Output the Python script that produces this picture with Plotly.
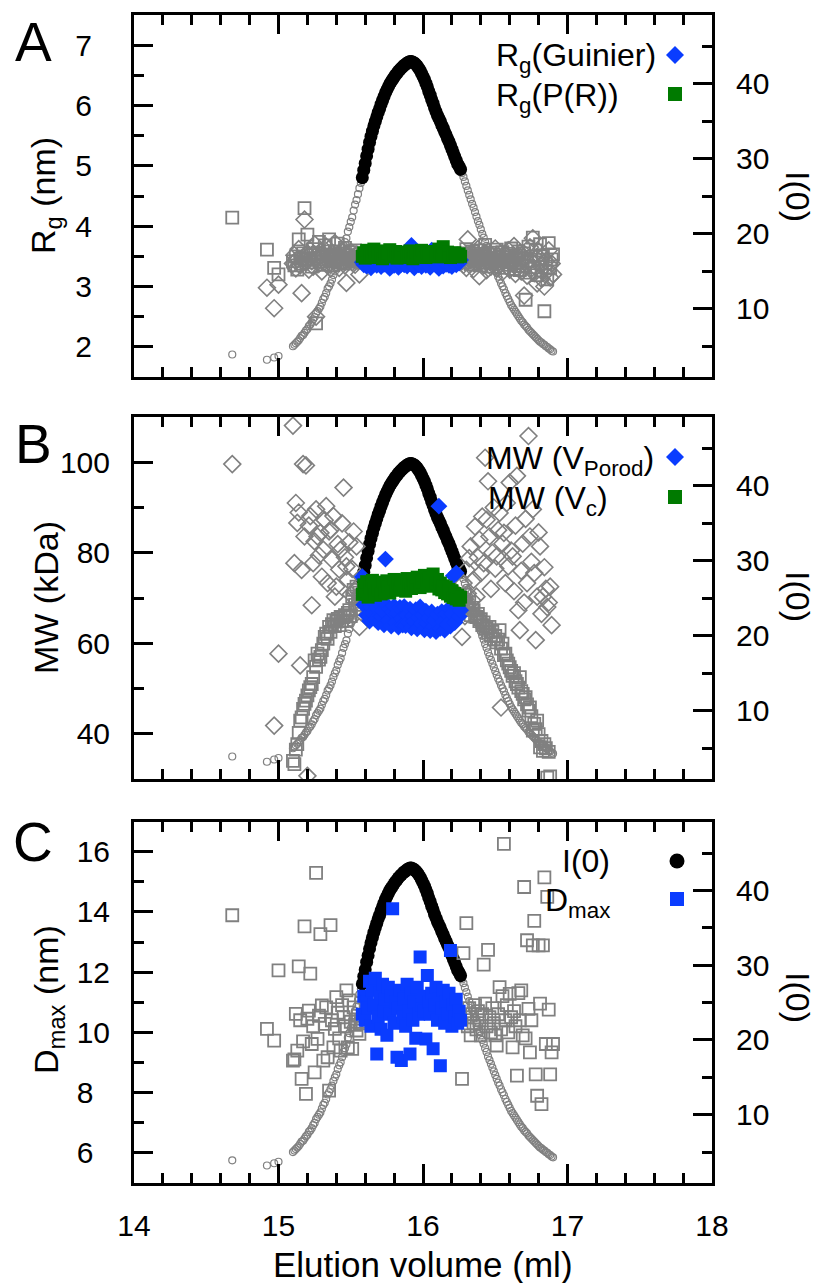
import numpy as np
import plotly.graph_objects as go

# Elution volume of each frame (ml)
volume_ml = [
    14.68, 14.92, 14.97, 15.00,
    15.10, 15.11, 15.12, 15.13, 15.14, 15.15, 15.16, 15.17, 15.18, 15.19,
    15.20, 15.21, 15.22, 15.23, 15.24, 15.25, 15.26, 15.27, 15.28, 15.29,
    15.30, 15.31, 15.32, 15.33, 15.34, 15.35, 15.36, 15.37, 15.38, 15.39,
    15.40, 15.41, 15.42, 15.43, 15.44, 15.45, 15.46, 15.47, 15.48, 15.49,
    15.50, 15.51, 15.52, 15.53, 15.54, 15.55, 15.56, 15.57, 15.58, 15.59,
    15.60, 15.61, 15.62, 15.63, 15.64, 15.65, 15.66, 15.67, 15.68, 15.69,
    15.70, 15.71, 15.72, 15.73, 15.74, 15.75, 15.76, 15.77, 15.78, 15.79,
    15.80, 15.81, 15.82, 15.83, 15.84, 15.85, 15.86, 15.87, 15.88, 15.89,
    15.90, 15.91, 15.92, 15.93, 15.94, 15.95, 15.96, 15.97, 15.98, 15.99,
    16.00, 16.01, 16.02, 16.03, 16.04, 16.05, 16.06, 16.07, 16.08, 16.09,
    16.10, 16.11, 16.12, 16.13, 16.14, 16.15, 16.16, 16.17, 16.18, 16.19,
    16.20, 16.21, 16.22, 16.23, 16.24, 16.25, 16.26, 16.27, 16.28, 16.29,
    16.30, 16.31, 16.32, 16.33, 16.34, 16.35, 16.36, 16.37, 16.38, 16.39,
    16.40, 16.41, 16.42, 16.43, 16.44, 16.45, 16.46, 16.47, 16.48, 16.49,
    16.50, 16.51, 16.52, 16.53, 16.54, 16.55, 16.56, 16.57, 16.58, 16.59,
    16.60, 16.61, 16.62, 16.63, 16.64, 16.65, 16.66, 16.67, 16.68, 16.69,
    16.70, 16.71, 16.72, 16.73, 16.74, 16.75, 16.76, 16.77, 16.78, 16.79,
    16.80, 16.81, 16.82, 16.83, 16.84, 16.85, 16.86, 16.87, 16.88, 16.89,
    16.90,
]

# Forward scattering I(0)
i0 = [
    3.9, 3.2, 3.5, 3.7,
    5.0, 5.2, 5.4, 5.6, 5.8, 6.1, 6.4, 6.5, 6.8, 7.1,
    7.3, 7.7, 7.9, 8.2, 8.6, 8.9, 9.4, 9.7, 10.0, 10.3,
    10.8, 11.3, 11.6, 12.1, 12.7, 13.0, 13.4, 13.9, 14.5, 15.0,
    15.4, 16.1, 16.6, 17.0, 17.7, 18.4, 18.9, 19.4, 20.3, 20.9,
    21.6, 22.2, 23.1, 23.9, 24.5, 25.3, 26.1, 26.8, 27.5, 28.5,
    29.4, 30.4, 31.3, 32.2, 33.0, 33.7, 34.4, 35.0, 35.6, 36.2,
    36.7, 37.3, 37.8, 38.3, 38.8, 39.2, 39.6, 40.0, 40.3, 40.6,
    40.9, 41.2, 41.4, 41.7, 41.9, 42.1, 42.3, 42.5, 42.6, 42.8,
    42.9, 43.0, 43.0, 42.9, 42.8, 42.6, 42.4, 42.1, 41.8, 41.4,
    41.0, 40.6, 40.1, 39.6, 39.0, 38.5, 37.9, 37.4, 36.8, 36.3,
    35.8, 35.4, 35.0, 34.5, 34.1, 33.6, 33.2, 32.7, 32.3, 31.8,
    31.3, 30.8, 30.3, 29.8, 29.3, 29.0, 28.6, 28.1, 27.6, 27.0,
    26.4, 25.8, 25.2, 24.6, 24.0, 23.5, 22.9, 22.3, 21.7, 21.2,
    20.6, 20.0, 19.5, 18.9, 18.4, 17.8, 17.3, 16.8, 16.3, 15.8,
    15.3, 14.8, 14.3, 13.9, 13.4, 13.0, 12.6, 12.1, 11.7, 11.3,
    10.9, 10.5, 10.2, 9.9, 9.6, 9.3, 9.0, 8.7, 8.4, 8.2,
    7.9, 7.7, 7.5, 7.2, 7.0, 6.8, 6.6, 6.4, 6.2, 6.0,
    5.8, 5.6, 5.5, 5.3, 5.2, 5.0, 4.9, 4.7, 4.6, 4.4,
    4.3,
]

# Radius of gyration from the Guinier fit (nm)
rg_guinier = [
    None, 2.98, 2.64, 3.03,
    3.38, 3.52, 3.30, 3.45, 3.62, 3.35, 2.89, 3.48, 4.11, 3.40,
    3.55, 3.28, 3.60, 3.42, 3.33, 3.70, 2.50, 3.46, 3.38, 3.58,
    3.25, 3.50, 3.41, 3.66, 3.36, 3.47, 3.30, 3.55, 3.44, 3.72,
    3.39, 3.52, 3.31, 3.48, 3.60, 3.42, 3.35, 3.06, 3.50, 3.44,
    3.58, 3.40, 3.47, 3.36, 3.52, 3.43, 3.20, 3.46, 3.40, 3.36,
    3.42, 3.34, 3.45, 3.38, 3.31, 3.44, 3.37, 3.40, 3.35, 3.47,
    3.39, 3.33, 3.42, 3.37, 3.45, 3.36, 3.41, 3.30, 3.43, 3.38,
    3.35, 3.46, 3.39, 3.32, 3.41, 3.37, 3.44, 3.36, 3.40, 3.34,
    3.44, 3.38, 3.68, 3.43, 3.31, 3.45, 3.39, 3.36, 3.42, 3.33,
    3.47, 3.38, 3.35, 3.41, 3.37, 3.32, 3.60, 3.44, 3.39, 3.36,
    3.42, 3.30, 3.46, 3.38, 3.34, 3.41, 3.37, 3.43, 3.35, 3.40,
    3.33, 3.45, 3.38, 3.36, 3.42, 3.39, 3.44, 3.42, 3.36, 3.50,
    3.31, 3.78, 3.45, 3.38, 3.55, 3.29, 3.47, 3.40, 3.62, 3.17,
    3.44, 3.52, 3.35, 3.48, 3.27, 3.58, 3.41, 3.33, 3.50, 3.39,
    3.63, 3.30, 3.46, 3.37, 3.55, 3.24, 3.43, 3.51, 3.34, 3.60,
    3.28, 3.45, 3.38, 3.67, 3.21, 3.49, 3.36, 3.56, 3.25, 3.44,
    2.85, 3.52, 3.18, 3.40, 3.65, 3.30, 3.80, 3.22, 3.47, 3.05,
    3.58, 3.35, 3.13, 3.50, 3.00, 3.42, 3.26, 3.60, 3.15, 3.38,
    3.20,
]

# Radius of gyration from the pair distance distribution P(R) (nm)
rg_pr = [
    4.14, 3.61, 3.31, 3.20,
    3.42, 3.35, 3.50, 3.28, 3.78, 3.46, 3.38, 3.55, 4.30, 3.44,
    3.86, 3.40, 3.52, 3.33, 3.62, 3.47, 2.39, 3.56, 3.74, 3.41,
    3.50, 3.36, 3.68, 3.45, 3.53, 3.78, 3.42, 3.49, 3.35, 3.58,
    3.46, 3.71, 3.40, 3.55, 3.48, 3.38, 3.64, 3.44, 3.52, 3.41,
    3.57, 3.47, 3.43, 3.60, 3.49, 3.45, 3.53, 3.48, 3.50, 3.56,
    3.47, 3.60, 3.53, 3.49, 3.58, 3.52, 3.62, 3.55, 3.48, 3.57,
    3.51, 3.54, 3.46, 3.59, 3.53, 3.50, 3.56, 3.61, 3.49, 3.54,
    3.52, 3.58, 3.47, 3.55, 3.51, 3.57, 3.53, 3.48, 3.56, 3.50,
    3.54, 3.59, 3.52, 3.46, 3.55, 3.51, 3.57, 3.49, 3.53, 3.60,
    3.50, 3.55, 3.48, 3.56, 3.52, 3.58, 3.54, 3.50, 3.57, 3.53,
    3.49, 3.62, 3.55, 3.51, 3.66, 3.54, 3.50, 3.57, 3.53, 3.48,
    3.55, 3.51, 3.56, 3.52, 3.49, 3.54, 3.50, 3.48, 3.55, 3.40,
    3.62, 3.45, 3.52, 3.37, 3.58, 3.46, 3.41, 3.54, 3.49, 3.35,
    3.60, 3.44, 3.51, 3.69, 3.39, 3.47, 3.56, 3.42, 3.33, 3.53,
    3.45, 3.61, 3.38, 3.50, 3.43, 3.57, 3.31, 3.48, 3.40, 3.54,
    3.36, 3.63, 3.44, 3.29, 3.51, 3.39, 3.58, 3.27, 3.46, 3.34,
    3.55, 2.78, 3.42, 3.66, 3.23, 3.49, 3.81, 3.32, 3.60, 3.19,
    3.44, 3.70, 3.26, 3.52, 2.59, 3.38, 3.12, 3.72, 3.30, 3.45,
    3.53,
]

# Molecular weight from the Porod volume (kDa)
mw_porod = [
    99.6, None, 41.8, 57.7,
    108.1, 77.7, 91.0, 86.6, 88.9, 55.1, 76.2, 99.6, 83.6, 99.3,
    30.7, 86.0, 88.1, 68.4, 77.7, 82.5, 89.6, 83.6, 79.4, 84.4,
    74.7, 80.7, 87.2, 90.3, 73.3, 84.7, 85.1, 78.5, 88.1, 70.3,
    72.5, 81.9, 76.3, 80.7, 86.5, 94.4, 79.0, 77.0, 74.0, 82.3,
    70.8, 76.4, 84.7, 71.5, 81.4, 68.0, 63.6, 66.9, 74.7, 68.5,
    74.0, 66.2, 69.3, 64.9, 68.0, 66.7, 69.1, 65.3, 67.8, 64.6,
    68.6, 65.9, 67.2, 64.1, 78.6, 68.4, 65.0, 67.6, 63.8, 66.9,
    68.2, 64.5, 66.6, 63.6, 67.9, 65.4, 64.0, 68.1, 63.9, 66.3,
    64.7, 67.5, 63.4, 66.0, 64.9, 67.4, 63.2, 65.7, 68.0, 64.3,
    66.2, 63.0, 67.1, 64.4, 65.6, 62.8, 66.9, 63.7, 65.1, 62.6,
    66.4, 90.3, 63.3, 67.0, 64.8, 62.9, 66.6, 64.2, 67.7, 63.8,
    66.5, 74.9, 64.6, 75.5, 68.3, 65.9, 67.3, 61.4, 73.3, 66.0,
    76.2, 71.0, 78.8, 81.4, 69.5, 74.0, 85.8, 70.3, 79.0, 82.9,
    75.5, 88.0, 77.7, 101.0, 87.3, 95.8, 83.6, 72.0, 80.0, 90.0,
    76.5, 79.2, 85.0, 88.8, 45.8, 82.0, 84.4, 73.3, 91.0, 77.0,
    95.5, 80.5, 79.2, 71.5, 86.0, 97.0, 67.3, 62.9, 76.0, 82.0,
    69.0, 87.5, 73.3, 105.8, 83.6, 78.0, 89.6, 75.5, 60.7, 70.3,
    84.5, 81.4, 66.5, 70.3, 76.8, 72.0, 68.0, 69.0, 72.5, 64.0,
    None,
]

# Molecular weight from the volume of correlation Vc (kDa)
mw_vc = [
    None, None, None, None,
    34.0, 33.3, 36.5, 37.7, 40.2, 42.9, 43.6, 45.5, 46.6, 47.3,
    48.5, 49.6, 50.3, 51.0, 52.5, 56.2, 54.8, 57.7, 56.4, 57.0,
    58.5, 59.9, 61.4, 62.1, 61.0, 63.6, 62.5, 64.2, 65.1, 63.8,
    64.8, 65.4, 64.0, 65.8, 64.9, 65.8, 66.2, 65.0, 66.7, 67.3,
    66.0, 70.3, 71.8, 68.5, 72.5, 69.7, 71.2, 70.5, 70.8, 72.9,
    71.5, 73.6, 70.2, 72.4, 71.0, 73.9, 72.1, 70.6, 73.2, 71.8,
    72.7, 70.9, 73.5, 72.0, 71.3, 73.8, 72.5, 71.1, 73.0, 72.2,
    74.1, 71.7, 72.8, 73.4, 71.9, 74.0, 72.6, 73.1, 71.5, 74.3,
    72.9, 73.6, 72.1, 74.0, 73.2, 72.4, 74.6, 73.0, 72.3, 74.2,
    73.5, 75.0, 72.8, 73.9, 74.5, 72.6, 73.7, 75.3, 72.9, 73.4,
    74.1, 72.0, 73.3, 71.8, 72.7, 71.2, 72.4, 70.9, 71.9, 70.4,
    71.6, 70.1, 71.0, 69.8, 70.6, 69.5, 70.2, 70.0, 69.1, 70.8,
    68.8, 67.5, 69.0, 66.2, 67.8, 67.3, 65.9, 65.8, 66.5, 64.9,
    65.3, 64.0, 64.6, 63.2, 63.6, 62.4, 63.6, 61.8, 62.5, 60.9,
    61.6, 60.2, 60.8, 62.9, 58.8, 59.9, 57.4, 57.7, 56.2, 55.5,
    54.7, 53.9, 52.8, 53.4, 51.6, 51.0, 50.2, 52.5, 49.4, 48.8,
    47.6, 48.1, 46.5, 45.1, 45.8, 43.9, 40.7, 42.2, 41.0, 42.9,
    39.9, 37.0, 38.4, 36.2, 37.7, 36.8, 30.3, 36.0, 30.6, None,
    None,
]

# Maximum particle dimension (nm)
dmax = [
    13.89, 10.11, 9.72, 12.06,
    9.06, 9.10, 10.61, 9.39, 12.19, 10.40, 8.45, 9.70, 13.52, 7.95,
    10.45, 10.72, 11.95, 9.61, 10.20, 8.67, 15.30, 9.78, 10.55, 13.26,
    10.89, 9.06, 10.28, 10.83, 9.17, 8.06, 13.56, 10.40, 9.50, 10.11,
    11.17, 10.65, 9.80, 9.39, 10.90, 10.50, 10.20, 11.39, 9.50, 11.06,
    10.35, 9.45, 10.83, 10.25, 10.06, 10.55, 9.95, 10.30, 10.6, 11.2,
    10.4, 11.0, 10.8, 11.7, 10.2, 11.4, 10.9, 11.8, 9.28, 10.5,
    11.3, 10.1, 11.6, 10.7, 11.1, 9.9, 11.5, 10.6, 11.2, 14.11,
    10.3, 11.0, 9.17, 10.8, 11.4, 9.06, 10.5, 11.1, 10.2, 11.6,
    10.7, 9.28, 11.3, 10.4, 11.0, 9.8, 11.5, 10.6, 12.5, 10.9,
    11.2, 10.7, 9.78, 11.89, 11.0, 10.6, 11.3, 9.45, 10.9, 11.5,
    10.4, 11.1, 8.89, 10.8, 11.4, 10.3, 11.0, 10.6, 11.3, 12.72,
    10.2, 10.9, 10.5, 11.1, 10.3, 10.7, 10.4, 8.45, 12.63, 10.5,
    13.63, 10.2, 10.8, 9.9, 10.6, 10.3, 10.9, 10.1, 10.7, 10.4,
    9.9, 10.6, 12.25, 10.95, 10.2, 12.74, 10.5, 10.0, 10.8, 10.3,
    9.9, 9.56, 10.6, 11.50, 10.1, 11.2, 16.26, 10.4, 10.9, 10.0,
    11.28, 10.5, 9.5, 10.7, 10.2, 8.56, 11.3, 10.4, 11.39, 9.9,
    14.83, 9.8, 13.06, 10.78, 9.33, 10.4, 12.89, 13.70, 8.6, 7.89,
    12.89, 10.95, 7.61, 12.89, 15.15, 9.61, 14.5, 10.75, 8.6, 9.33,
    9.61,
]

# Frames of the elution peak used for the analysis
SEL_START, SEL_END = 15.58, 16.26

# Left-axis tick values and labels for each panel
rg_ticks = [2, 3, 4, 5, 6, 7]
rg_ticktext = ["2", "3", "4", "5", "6", "7"]
mw_ticks = [40, 60, 80, 100]
mw_ticktext = ["40", "60", "80", "100"]
dmax_ticks = [6, 8, 10, 12, 14, 16]
dmax_ticktext = ["6\u2007", "8\u2007", "10", "12", "14", "16"]
i0_ticks = [10, 20, 30, 40]
x_ticks = [14, 15, 16, 17, 18]

# ---------------------------------------------------------------------------
W, H = 821, 1283
FONT = "Liberation Sans, Arial, Helvetica, sans-serif"
GRAY = "#808080"
BLUE = "#0a3cff"
GREEN = "#007a00"

vol = np.array(volume_ml, dtype=float)
sel = (vol >= SEL_START - 1e-9) & (vol <= SEL_END + 1e-9)
rest = ~sel


def col(values):
    return np.array([np.nan if v is None else v for v in values], dtype=float)


def px(x):
    return x / W


def py(y):
    return 1 - y / H


X_LEFT, X_RIGHT = 134, 712
PANEL_Y = [(15, 377), (417, 779), (821.7, 1182.7)]

fig = go.Figure()


def add_points(x, y, xa, ya, symbol, size, color, line_w=0):
    m = dict(symbol=symbol, size=size, color=color,
             line=dict(width=line_w, color=color))
    fig.add_trace(go.Scatter(x=x, y=y, mode="markers", marker=m,
                             xaxis=xa, yaxis=ya, showlegend=False,
                             cliponaxis=True))


I0 = col(i0)
panels = [
    ("x", "y", "y2", col(rg_guinier), col(rg_pr), BLUE, GREEN),
    ("x2", "y3", "y4", col(mw_porod), col(mw_vc), BLUE, GREEN),
    ("x3", "y5", "y6", None, col(dmax), None, BLUE),
]

for xa, yi0, yl, s1, s2, c1, c2 in panels:
    # elution profile on the right axis
    add_points(vol[rest], I0[rest], xa, yi0, "circle-open", 7, GRAY, 1.2)
    add_points(vol[sel], I0[sel], xa, yi0, "circle", 13, "black")
    # structural parameters on the left axis
    if s1 is not None:
        add_points(vol[rest], s1[rest], xa, yl, "diamond-open", 13, GRAY, 1.6)
    add_points(vol[rest], s2[rest], xa, yl, "square-open", 12, GRAY, 1.8)
    if s1 is not None:
        add_points(vol[sel], s1[sel], xa, yl, "diamond", 13, c1)
    add_points(vol[sel], s2[sel], xa, yl, "square", 13, c2)

tickfont = dict(family=FONT, size=30, color="black")
axis_common = dict(showline=True, linecolor="black", linewidth=3,
                   ticks="inside", ticklen=19, tickwidth=2.5, tickcolor="black",
                   showgrid=False, zeroline=False, tickfont=tickfont,
                   automargin=False)


def minor(dt):
    return dict(dtick=dt, ticks="inside", ticklen=10, tickwidth=2.5,
                tickcolor="black", showgrid=False)


left_specs = [
    dict(range=[1.5, 7.5], tickvals=rg_ticks, ticktext=rg_ticktext,
         minor=minor(0.5), ticklabelstandoff=33),
    dict(range=[30, 110], tickvals=mw_ticks, ticktext=mw_ticktext,
         minor=minor(10), ticklabelstandoff=15),
    dict(range=[5, 17], tickvals=dmax_ticks, ticktext=dmax_ticktext,
         minor=minor(1), ticklabelstandoff=15),
]

layout = dict(width=W, height=H,
              margin=dict(l=0, r=0, t=0, b=0, pad=0, autoexpand=False),
              autosize=False, paper_bgcolor="white", plot_bgcolor="white",
              showlegend=False)

for k, (top, bot) in enumerate(PANEL_Y):
    xname = "xaxis" if k == 0 else f"xaxis{k + 1}"
    yr = 2 * k + 1
    yl = 2 * k + 2
    yr_name = "yaxis" if yr == 1 else f"yaxis{yr}"
    yl_name = f"yaxis{yl}"
    yr_ref = "y" if yr == 1 else f"y{yr}"
    xref = "x" if k == 0 else f"x{k + 1}"
    layout[xname] = dict(axis_common, domain=[px(X_LEFT), px(X_RIGHT)],
                         range=[14, 18], anchor=yr_ref, mirror="ticks",
                         tickvals=x_ticks, minor=minor(0.2),
                         showticklabels=(k == 2), ticklabelstandoff=14)
    layout[yr_name] = dict(axis_common, domain=[py(bot), py(top)],
                           range=[0.9, 49.2], side="right", anchor=xref,
                           tickvals=i0_ticks, minor=minor(5),
                           ticklabelstandoff=15)
    layout[yl_name] = dict(axis_common, overlaying=yr_ref, side="left",
                           anchor=xref, **left_specs[k])

fig.update_layout(**layout)

# ---------------------------------------------------------------------------
annotations = []


def text(s, x, y, size, xanchor="center", yanchor="middle", angle=0):
    annotations.append(dict(text=s, x=px(x), y=py(y), xref="paper", yref="paper",
                            xanchor=xanchor, yanchor=yanchor, textangle=angle,
                            showarrow=False, font=dict(family=FONT, size=size,
                                                       color="black")))


# panel letters
for letter, yc in zip("ABC", [40, 442, 840]):
    text(letter, 33, yc + 2, 55)

# axis titles
text("R<sub>g</sub> (nm)", 46, 196, 34, angle=-90)
text("MW (kDa)", 46, 598, 34, angle=-90)
text("D<sub>max</sub> (nm)", 48, 1000, 34, angle=-90)
for yc in [196, 596, 997]:
    text("I(0)", 798, yc, 34, angle=90)
text("Elution volume (ml)", 423, 1264, 35)

# legends
text("R<sub>g</sub>(Guinier)", 494, 58, 32, xanchor="left")
text("R<sub>g</sub>(P(R))", 494, 97, 32, xanchor="left")
text("MW (V<sub>Porod</sub>)", 484, 460, 32, xanchor="left")
text("MW (V<sub>c</sub>)", 486, 500, 32, xanchor="left")
text("I(0)", 612, 861, 32, xanchor="right")
text("D<sub>max</sub>", 612, 902, 32, xanchor="right")

shapes = []


def key_marker(kind, x, y, color, r):
    base = dict(xref="paper", yref="paper", xsizemode="pixel", ysizemode="pixel",
                xanchor=px(x), yanchor=py(y), fillcolor=color,
                line=dict(width=0), layer="above")
    if kind == "diamond":
        base.update(type="path", path=f"M0,{r} L{r},0 L0,{-r} L{-r},0 Z")
    elif kind == "square":
        base.update(type="rect", x0=-r, x1=r, y0=-r, y1=r)
    else:
        base.update(type="circle", x0=-r, x1=r, y0=-r, y1=r)
    shapes.append(base)


key_marker("diamond", 675, 55, BLUE, 9)
key_marker("square", 675, 94, GREEN, 7)
key_marker("diamond", 675, 457, BLUE, 9)
key_marker("square", 675, 497, GREEN, 7)
key_marker("circle", 677, 861, "black", 7.5)
key_marker("square", 677, 899, BLUE, 7)

fig.update_layout(annotations=annotations, shapes=shapes)

fig.write_html("out.html")
